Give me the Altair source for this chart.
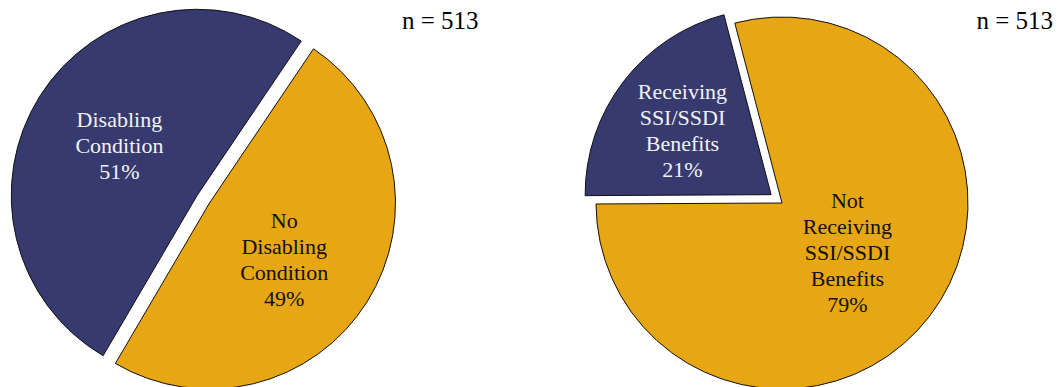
import math
import altair as alt
import pandas as pd

# ---- data ----
left_categories = ["No Disabling Condition", "Disabling Condition"]
left_values = [49, 51]
right_categories = ["Receiving SSI/SSDI Benefits", "Not Receiving SSI/SSDI Benefits"]
right_values = [21, 79]
sample_note = "n = 513"

# ---- style ----
NAVY = "#373A6F"
GOLD = "#E7A715"
FONT = "Liberation Serif"
RADIUS = 186
LINE_H = 26
pies = [
    dict(key="left", cats=left_categories, vals=left_values, cx=201.5, cy=195, start=34.0,
         fills=[GOLD, NAVY], text_colors=["#111111", "#F2F2F2"], explode=[0, 14.5],
         label_r=[93, 92], label_dxy=[(-4, 7), (0, 0)], note_x=394, note_align="left"),
    dict(key="right", cats=right_categories, vals=right_values, cx=774, cy=195, start=269.7,
         fills=[NAVY, GOLD], text_colors=["#F2F2F2", "#111111"], explode=[13.7, 0],
         label_r=[108, 82.5], label_dxy=[(-3, 2), (0, 0)], note_x=1045, note_align="right"),
]

rows = []
for p in pies:
    for i, (c, v) in enumerate(zip(p["cats"], p["vals"])):
        label = "\n".join(c.split()) + "\n\u00a0\u00a0" + f"{v}%"
        rows.append(dict(pie=p["key"], cat=c, value=v, order=i, label=label))
df = pd.DataFrame(rows)

base = alt.Chart(df).transform_stack(
    stack="value", as_=["v0", "v1"], groupby=["pie"],
    sort=[alt.SortField("order", order="ascending")]
).transform_calculate(vmid="(datum.v0 + datum.v1) / 2")

layers = []
for p in pies:
    s = math.radians(p["start"])
    tscale = alt.Scale(domain=[0, 100], range=[s, s + 2 * math.pi])
    total = sum(p["vals"])
    cum = 0
    for i, (c, v) in enumerate(zip(p["cats"], p["vals"])):
        mid = s + (cum + v / 2) / total * 2 * math.pi
        cum += v
        ex = p["explode"][i]
        cx = p["cx"] + ex * math.sin(mid)
        cy = p["cy"] - ex * math.cos(mid)
        sub = base.transform_filter(alt.datum.cat == c)
        arc = sub.mark_arc(
            x=cx, y=cy, radius=RADIUS, fill=p["fills"][i],
            stroke="#111111", strokeWidth=1
        ).encode(
            theta=alt.Theta("v0:Q", scale=tscale, stack=None),
            theta2="v1:Q",
        )
        n_lines = len(c.split()) + 1
        dx, dy = p["label_dxy"][i]
        dy = dy - (n_lines - 1) / 2 * LINE_H
        txt = sub.mark_text(
            x=cx, y=cy, radius=p["label_r"][i], dx=dx, dy=dy,
            font=FONT, fontSize=22, lineHeight=LINE_H, lineBreak="\n",
            align="center", baseline="middle", color=p["text_colors"][i]
        ).encode(
            theta=alt.Theta("vmid:Q", scale=tscale, stack=None),
            text="label:N",
        )
        layers += [arc, txt]
    note = alt.Chart(pd.DataFrame({"t": [sample_note]})).mark_text(
        x=p["note_x"], y=21.3, font=FONT, fontSize=25, align=p["note_align"],
        baseline="alphabetic", color="#000000"
    ).encode(text="t:N")
    layers.append(note)

chart = alt.layer(*layers).resolve_scale(theta="independent").properties(
    width=1045, height=379, padding=0, autosize=alt.AutoSizeParams(type="none")
).configure_view(stroke=None)

chart.save("out.html", embed_options={"renderer": "svg", "actions": False})
